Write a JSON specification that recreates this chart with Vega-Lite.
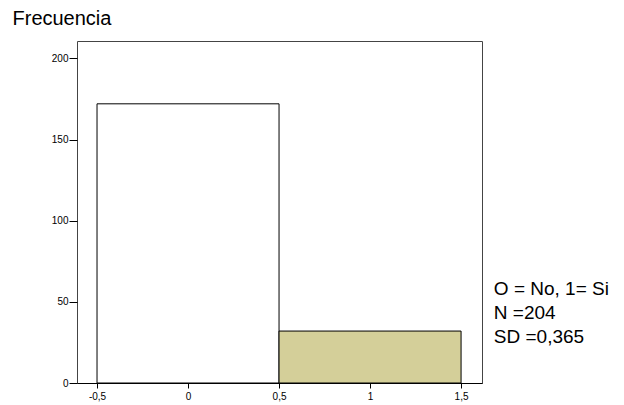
{
  "$schema": "https://vega.github.io/schema/vega-lite/v6.json",
  "width": 405,
  "height": 342,
  "autosize": "none",
  "padding": {"left": 77, "top": 41, "right": 142, "bottom": 22},
  "background": "white",
  "config": {
    "view": {"stroke": "#444444", "strokeWidth": 1},
    "font": "Liberation Sans"
  },
  "layer": [
    {
      "data": {
        "values": [
          {"start": -0.5, "end": 0.5, "count": 172, "group": "0"},
          {"start": 0.5, "end": 1.5, "count": 32, "group": "1"}
        ]
      },
      "mark": {"type": "rect", "stroke": "black", "strokeWidth": 1},
      "encoding": {
        "x": {
          "field": "start",
          "type": "quantitative",
          "scale": {"domain": [-0.61, 1.615], "nice": false, "zero": false},
          "axis": {
            "values": [-0.5, 0, 0.5, 1, 1.5],
            "labelExpr": "replace(toString(datum.value), '.', ',')",
            "grid": false,
            "title": null,
            "domainColor": "black",
            "tickColor": "black",
            "tickSize": 5,
            "labelFontSize": 10,
            "labelColor": "black",
            "labelPadding": 3,
            "labelFont": "Liberation Sans"
          }
        },
        "x2": {"field": "end"},
        "y": {
          "field": "count",
          "type": "quantitative",
          "scale": {"domain": [0, 210.7], "nice": false},
          "axis": {
            "values": [0, 50, 100, 150, 200],
            "grid": false,
            "domain": false,
            "tickColor": "black",
            "tickSize": 8,
            "labelFontSize": 10,
            "labelColor": "black",
            "labelPadding": 1,
            "labelFont": "Liberation Sans",
            "title": "Frecuencia",
            "titleAngle": 0,
            "titleAlign": "left",
            "titleBaseline": "alphabetic",
            "titleX": -65,
            "titleY": -17,
            "titleFontSize": 20,
            "titleFontWeight": "normal",
            "titleColor": "black",
            "titleFont": "Liberation Sans"
          }
        },
        "y2": {"datum": 0},
        "fill": {
          "field": "group",
          "type": "nominal",
          "scale": {"domain": ["0", "1"], "range": ["white", "#d4cf99"]},
          "legend": null
        }
      }
    },
    {
      "data": {
        "values": [
          {"label": "O = No, 1= Si", "x": 1.68, "y": 54.5},
          {"label": "N =204", "x": 1.68, "y": 39.5},
          {"label": "SD =0,365", "x": 1.68, "y": 24.7}
        ]
      },
      "mark": {"type": "text", "align": "left", "baseline": "alphabetic", "fontSize": 19, "font": "Liberation Sans", "color": "black"},
      "encoding": {
        "x": {"field": "x", "type": "quantitative"},
        "y": {"field": "y", "type": "quantitative"},
        "text": {"field": "label"}
      }
    }
  ]
}
